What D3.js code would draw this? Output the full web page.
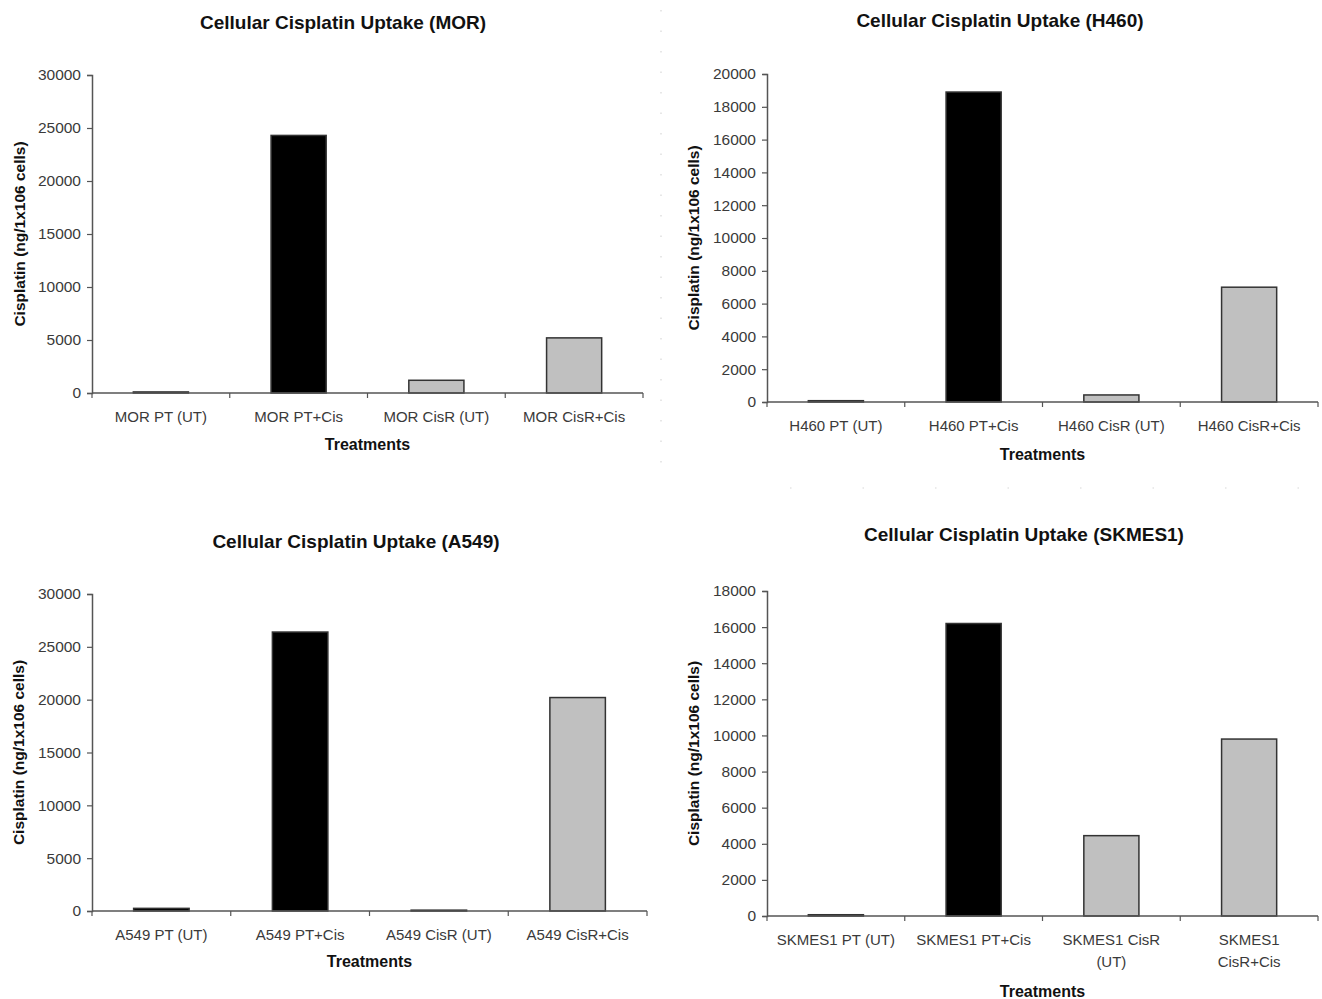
<!DOCTYPE html>
<html>
<head>
<meta charset="utf-8">
<script src="https://cdn.jsdelivr.net/npm/d3@7"></script>
<style>
  body { margin: 0; background: #fff; }
  text { font-family: 'Liberation Sans', Arial, sans-serif; }
</style>
</head>
<body>
<script>
(function() {
  'use strict';

  // chart data, one set per cell line
  var morCats = ['MOR PT (UT)', 'MOR PT+Cis', 'MOR CisR (UT)', 'MOR CisR+Cis'];
  var morVals = [100, 24300, 1200, 5200];
  var morTicks = [0, 5000, 10000, 15000, 20000, 25000, 30000];

  var h460Cats = ['H460 PT (UT)', 'H460 PT+Cis', 'H460 CisR (UT)', 'H460 CisR+Cis'];
  var h460Vals = [80, 18900, 430, 7000];
  var h460Ticks = [0, 2000, 4000, 6000, 8000, 10000, 12000, 14000, 16000, 18000, 20000];

  var a549Cats = ['A549 PT (UT)', 'A549 PT+Cis', 'A549 CisR (UT)', 'A549 CisR+Cis'];
  var a549Vals = [250, 26400, 80, 20200];
  var a549Ticks = [0, 5000, 10000, 15000, 20000, 25000, 30000];

  var skCats = ['SKMES1 PT (UT)', 'SKMES1 PT+Cis', 'SKMES1 CisR\n(UT)', 'SKMES1\nCisR+Cis'];
  var skVals = [70, 16200, 4450, 9800];
  var skTicks = [0, 2000, 4000, 6000, 8000, 10000, 12000, 14000, 16000, 18000];

  var barColors = ['#000000', '#000000', '#c0c0c0', '#c0c0c0'];

  var W = 1322, H = 999;

  var svg = d3.select('body').append('svg')
    .attr('width', W)
    .attr('height', H);

  // faint dotted separators between the panels
  svg.append('line')
    .attr('x1', 661).attr('x2', 661).attr('y1', 10).attr('y2', 470)
    .attr('stroke', '#d8d8d8').attr('stroke-width', 1.2)
    .attr('stroke-dasharray', '1.5,19');
  svg.append('line')
    .attr('x1', 790).attr('x2', 1322).attr('y1', 488).attr('y2', 488)
    .attr('stroke', '#d8d8d8').attr('stroke-width', 1.2)
    .attr('stroke-dasharray', '1.5,71');

  var panels = [
    { title: 'Cellular Cisplatin Uptake (MOR)', cats: morCats, vals: morVals, ticks: morTicks,
      x0: 92, x1: 643, y0: 75, y1: 393, titleX: 343, titleY: 22, labX: 20, xlabY: 444 },
    { title: 'Cellular Cisplatin Uptake (H460)', cats: h460Cats, vals: h460Vals, ticks: h460Ticks,
      x0: 767, x1: 1318, y0: 74, y1: 402, titleX: 1000, titleY: 20, labX: 694, xlabY: 454 },
    { title: 'Cellular Cisplatin Uptake (A549)', cats: a549Cats, vals: a549Vals, ticks: a549Ticks,
      x0: 92, x1: 647, y0: 594, y1: 911, titleX: 356, titleY: 541, labX: 19, xlabY: 961 },
    { title: 'Cellular Cisplatin Uptake (SKMES1)', cats: skCats, vals: skVals, ticks: skTicks,
      x0: 767, x1: 1318, y0: 591, y1: 916, titleX: 1024, titleY: 534, labX: 694, xlabY: 991 }
  ];

  function drawPanel(p) {
    var g = svg.append('g');

    var x = d3.scaleBand()
      .domain(p.cats)
      .range([p.x0, p.x1])
      .paddingInner(0.6)
      .paddingOuter(0.3);

    var y = d3.scaleLinear()
      .domain([0, d3.max(p.ticks)])
      .range([p.y1, p.y0]);

    // bars
    g.selectAll('rect.bar')
      .data(p.vals)
      .enter().append('rect')
      .attr('class', 'bar')
      .attr('x', function(d, i) { return x(p.cats[i]); })
      .attr('width', x.bandwidth())
      .attr('y', function(d) { return y(d); })
      .attr('height', function(d) { return p.y1 - y(d); })
      .attr('fill', function(d, i) { return barColors[i]; })
      .attr('stroke', '#333')
      .attr('stroke-width', 1.5);

    // y axis
    var yAxis = g.append('g')
      .attr('transform', 'translate(' + p.x0 + ',0)')
      .call(d3.axisLeft(y).tickValues(p.ticks).tickSize(5).tickPadding(6).tickFormat(d3.format('d')));
    yAxis.select('.domain').attr('stroke', '#555').attr('stroke-width', 1.5);
    yAxis.selectAll('.tick line').attr('stroke', '#555').attr('stroke-width', 1.2);
    yAxis.selectAll('.tick text')
      .attr('fill', '#3a3a3a')
      .style('font-size', '15.5px');

    // x axis: baseline with ticks at category boundaries
    var step = (p.x1 - p.x0) / p.cats.length;
    g.append('line')
      .attr('x1', p.x0).attr('x2', p.x1)
      .attr('y1', p.y1).attr('y2', p.y1)
      .attr('stroke', '#555').attr('stroke-width', 1.5);
    for (var k = 0; k <= p.cats.length; k++) {
      g.append('line')
        .attr('x1', p.x0 + k * step).attr('x2', p.x0 + k * step)
        .attr('y1', p.y1).attr('y2', p.y1 + 5)
        .attr('stroke', '#555').attr('stroke-width', 1.2);
    }

    // category labels (may wrap on two lines)
    p.cats.forEach(function(c) {
      var lines = c.split('\n');
      var t = g.append('text')
        .attr('x', x(c) + x.bandwidth() / 2)
        .attr('y', p.y1 + 29)
        .attr('text-anchor', 'middle')
        .attr('fill', '#3a3a3a')
        .style('font-size', '15px');
      lines.forEach(function(line, li) {
        t.append('tspan')
          .attr('x', x(c) + x.bandwidth() / 2)
          .attr('dy', li === 0 ? 0 : 22)
          .text(line);
      });
    });

    // title
    g.append('text')
      .attr('x', p.titleX)
      .attr('y', p.titleY + 7)
      .attr('text-anchor', 'middle')
      .attr('fill', '#111')
      .style('font-size', '19px')
      .style('font-weight', 'bold')
      .text(p.title);

    // axis titles
    g.append('text')
      .attr('transform', 'translate(' + (p.labX + 5) + ',' + ((p.y0 + p.y1) / 2) + ') rotate(-90)')
      .attr('text-anchor', 'middle')
      .attr('fill', '#111')
      .style('font-size', '15.5px')
      .style('font-weight', 'bold')
      .text('Cisplatin (ng/1x106 cells)');

    g.append('text')
      .attr('x', (p.x0 + p.x1) / 2)
      .attr('y', p.xlabY + 6)
      .attr('text-anchor', 'middle')
      .attr('fill', '#111')
      .style('font-size', '16px')
      .style('font-weight', 'bold')
      .text('Treatments');
  }

  panels.forEach(drawPanel);

}());
</script>
</body>
</html>
